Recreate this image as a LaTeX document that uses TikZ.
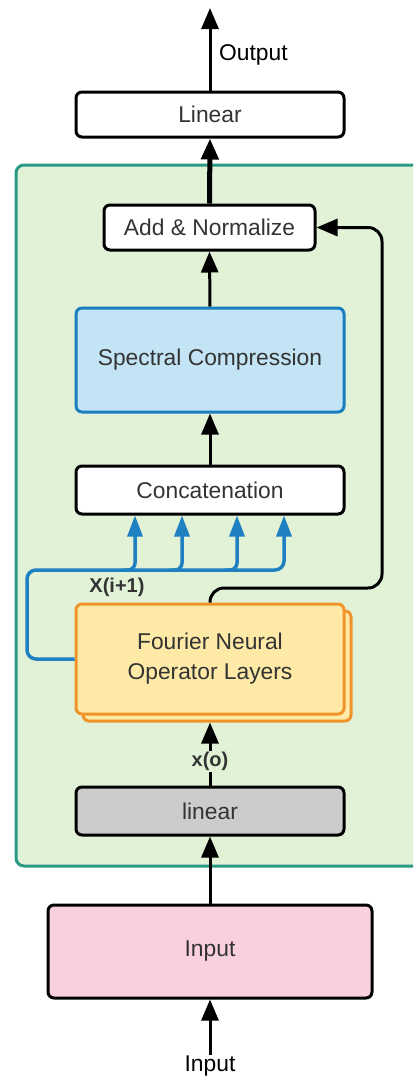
\documentclass[tikz,border=0pt]{standalone}
\usepackage{fontspec}
\setmainfont{Liberation Sans}
\usetikzlibrary{arrows.meta,positioning,calc}
\definecolor{grnfill}{HTML}{E1F2D6}
\definecolor{grnline}{HTML}{2A9A84}
\definecolor{specfill}{HTML}{C2E4F5}
\definecolor{specline}{HTML}{1A7DC0}
\definecolor{fnofill}{HTML}{FEE9A6}
\definecolor{fnoline}{HTML}{F0932B}
\definecolor{inpfill}{HTML}{F9D0DB}
\definecolor{linfill}{HTML}{CCCCCC}
\definecolor{txt}{HTML}{333333}
\definecolor{blu}{HTML}{1F80C2}
\tikzset{
  box/.style={draw=black, line width=3pt, rounded corners=6pt, fill=white,
    text=txt, font=\fontsize{22.8}{27}\selectfont, align=center, inner sep=0pt},
  conn/.style={line width=3pt, -{Triangle[width=17pt,length=21pt]}},
  bconn/.style={draw=blu, line width=3.5pt, -{Triangle[width=15pt,length=21pt]}},
  lbl/.style={font=\fontsize{20}{23}\selectfont\bfseries, text=txt, inner sep=1pt},
  plain/.style={font=\fontsize{22.8}{27}\selectfont, text=black, inner sep=1pt}
}
\begin{document}
\begin{tikzpicture}[x=1pt,y=-1pt]
\useasboundingbox (0,0) rectangle (413,1077);
% green container
\begin{scope}
\clip (0,0) rectangle (413,1077);
\node[draw=grnline, fill=grnfill, line width=3pt, rounded corners=8pt,
  minimum width=414pt, minimum height=701pt, inner sep=0pt] (grn) at (223,515.5) {};
\end{scope}
% nodes
\node[box, minimum width=268pt, minimum height=45pt] (linTop) at (210,114.5) {Linear};
\node[box, minimum width=211pt, minimum height=45pt] (add) at (209.5,227.5) {Add \& Normalize};
\node[box, fill=specfill, draw=specline, minimum width=268pt, minimum height=104pt] (spec) at (210,360) {Spectral Compression};
\node[box, minimum width=268pt, minimum height=48pt] (concat) at (210,490) {Concatenation};
\node[box, fill=fnofill, draw=fnoline, minimum width=268pt, minimum height=110pt] (fnoB) at (217,666) {};
\node[box, fill=fnofill, draw=fnoline, minimum width=268pt, minimum height=110pt] (fno) at (210,659) {Fourier Neural\\[3pt]Operator Layers};
\node[box, fill=linfill, minimum width=268pt, minimum height=48pt] (lin) at (210,811) {linear};
\node[box, fill=inpfill, minimum width=324pt, minimum height=93pt] (inp) at (210,951.5) {Input};
\node[plain] (inLbl) at (210,1066) {Input};
\coordinate (outTip) at (210,8);
\node[plain, anchor=west] (outLbl) at (218,55) {Output};
% connectors
\draw[conn] (linTop.north) -- (outTip);
\draw[line width=5pt, -{Triangle[width=17pt,length=21pt]}] (add.north) -- (linTop.south);
\draw[conn] (spec.north) -- (add.south);
\draw[conn] (concat.north) -- (spec.south);
\draw[conn] (inp.north) -- (lin.south);
\draw[conn] (inLbl.north) -- (inp.south);
\draw[conn] (lin.north) -- (lin.north |- fnoB.south) node[pos=0.38, lbl, fill=grnfill] (xo) {x(o)};
% skip connection
\coordinate (sk) at (382,588);
\draw[conn, rounded corners=14pt] (fno.north) |- (sk) |- (add.east);
% blue concat branches
\coordinate (bl) at (27,570);
\coordinate (b1) at (135,570);
\coordinate (b2) at (182,570);
\coordinate (b3) at (237,570);
\coordinate (b4) at (284,570);
\draw[bconn, rounded corners=9pt] (fno.west) -| (bl) -- (b4) -- (b4 |- concat.south);
\draw[bconn, rounded corners=7pt] ($(b1)+(-12,0)$) -- (b1) -- (b1 |- concat.south);
\draw[bconn, rounded corners=7pt] ($(b2)+(-12,0)$) -- (b2) -- (b2 |- concat.south);
\draw[bconn, rounded corners=7pt] ($(b3)+(-12,0)$) -- (b3) -- (b3 |- concat.south);
\node[lbl] (xi) at (117,587) {X(i+1)};
\end{tikzpicture}
\end{document}
